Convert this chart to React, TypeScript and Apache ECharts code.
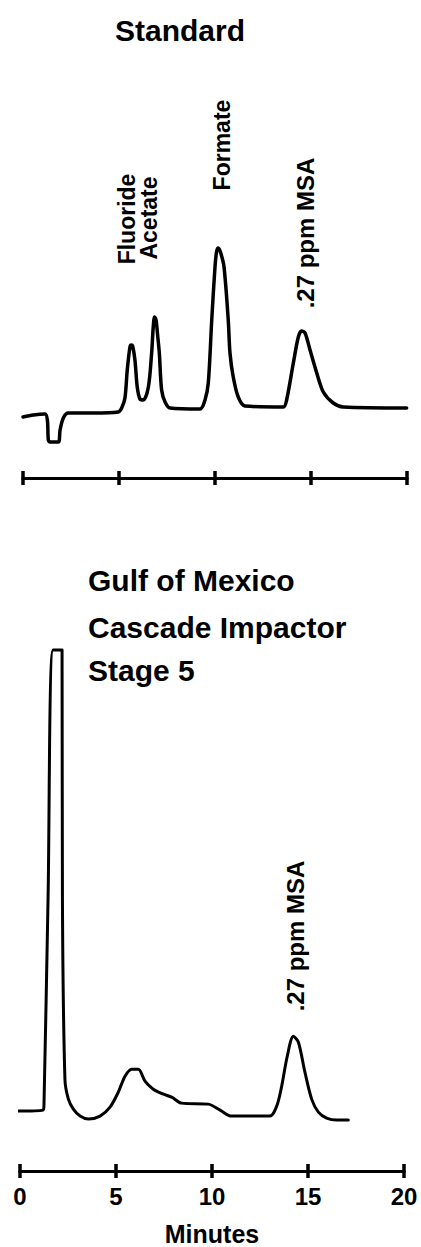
import React, { useEffect, useRef } from "react";
import * as echarts from "echarts";

// ---- data (minutes, detector signal in arbitrary units) ----
const minuteTickLabels = ["0", "5", "10", "15", "20"];

const standardTime = [
  0, 0.54, 1.15, 1.27, 1.32, 1.41, 1.84, 1.93, 2.1, 2.36, 3.66, 4.96, 5.14, 5.31, 5.43, 5.57, 5.64, 5.71, 5.83,
  5.95, 6.09, 6.27, 6.53, 6.7, 6.78, 6.85, 6.93, 7.0, 7.1, 7.22, 7.4, 7.66, 9.22, 9.48, 9.65, 9.83, 10.0, 10.08,
  10.17, 10.3, 10.47, 10.69, 10.78, 10.95, 11.21, 11.56, 13.56, 13.73, 14.08, 14.34, 14.51, 14.69, 14.95,
  15.3, 15.64, 16.16, 16.68, 19.98,
];
const standardSignal = [
  61, 63, 64, 58, 38, 36, 36, 48, 60, 65, 65, 66, 70, 80, 108, 131, 133, 132, 118,
  91, 79, 78, 91, 125, 150, 161, 158, 145, 125, 88, 76, 70, 69, 78, 95, 158, 211, 226,
  230, 225, 211, 158, 125, 101, 81, 72, 71, 78, 115, 141, 147, 145, 128,
  105, 86, 75, 71, 70,
];

const sampleTime = [
  -0.15, 1.2, 1.25, 1.46, 1.72, 2.19, 2.21, 2.34, 2.52, 2.78, 3.13, 3.56, 4.17, 4.69, 5.12, 5.47, 5.82,
  6.16, 6.51, 6.94, 7.47, 7.9, 8.42, 9.81, 10.42, 11.02, 13.02, 13.37, 13.63, 13.92, 14.24, 14.5, 14.84,
  15.19, 15.54, 15.97, 16.49, 17.1,
];
const sampleSignal = [
  60, 61, 67, 272, 522, 522, 272, 92, 72, 62, 55, 52, 55, 64, 79, 95, 102,
  102, 90, 82, 77, 74, 68, 67, 61, 55, 55, 65, 85, 115, 135, 129, 99,
  72, 59, 53, 51, 51,
];

const standardTitle = "Standard";
const sampleTitle = ["Gulf of Mexico", "Cascade Impactor", "Stage 5"];
const standardPeakNames = ["Fluoride", "Acetate", "Formate", ".27 ppm MSA"];
const samplePeakNames = [".27 ppm MSA"];

const FONT = '"Liberation Sans", Arial, Helvetica, sans-serif';

function txt(text: string, x: number, y: number, size: number, rotate = false, align = "left") {
  return {
    type: "text",
    x,
    y,
    rotation: rotate ? Math.PI / 2 : 0,
    style: {
      text,
      font: `bold ${size}px ${FONT}`,
      fill: "#000",
      align: rotate ? "center" : align,
      textAlign: rotate ? "center" : align,
      verticalAlign: "middle",
      textVerticalAlign: "middle",
    },
  };
}

function axisPair(gridIndex: number, withLabels: boolean) {
  const base = {
    gridIndex,
    type: "value",
    min: 0,
    max: 20,
    interval: 5,
    position: "bottom",
    axisLine: { show: true, lineStyle: { color: "#000", width: 3 } },
    splitLine: { show: false },
  };
  return [
    {
      ...base,
      axisTick: { show: true, inside: false, length: 7, lineStyle: { color: "#000", width: 3.5 } },
      axisLabel: withLabels
        ? {
            show: true,
            margin: 13,
            color: "#000",
            fontSize: 24,
            fontWeight: "bold",
            fontFamily: FONT,
            formatter: (v: number) => minuteTickLabels[Math.round(v / 5)] ?? "",
          }
        : { show: false },
      name: withLabels ? "Minutes" : "",
      nameLocation: "middle",
      nameGap: 50,
      nameTextStyle: { color: "#000", fontSize: 25, fontWeight: "bold", fontFamily: FONT },
    },
    {
      ...base,
      axisTick: { show: true, inside: true, length: 7, lineStyle: { color: "#000", width: 3.5 } },
      axisLabel: { show: false },
    },
  ];
}

export default function App() {
  const ref = useRef<HTMLDivElement>(null);

  useEffect(() => {
    if (!ref.current) return;
    const chart = echarts.init(ref.current, undefined, { renderer: "svg" });
    const option: any = {
      animation: false,
      backgroundColor: "#fff",
      grid: [
        { left: 23, top: 178, width: 384, height: 300 },
        { left: 20, top: 650, width: 384, height: 522 },
      ],
      xAxis: [...axisPair(0, false), ...axisPair(1, true)],
      yAxis: [
        { gridIndex: 0, type: "value", min: 0, max: 300, show: false },
        { gridIndex: 1, type: "value", min: 0, max: 522, show: false },
      ],
      series: [
        {
          type: "line",
          xAxisIndex: 0,
          yAxisIndex: 0,
          data: standardTime.map((t, i) => [t, standardSignal[i]]),
          symbol: "none",
          smooth: 0.3,
          lineStyle: { color: "#000", width: 3.5, join: "round", cap: "round" },
          clip: false,
        },
        {
          type: "line",
          xAxisIndex: 2,
          yAxisIndex: 1,
          data: sampleTime.map((t, i) => [t, sampleSignal[i]]),
          symbol: "none",
          smooth: 0.3,
          lineStyle: { color: "#000", width: 3, join: "round", cap: "round" },
          clip: false,
        },
      ],
      graphic: [
        txt(standardTitle, 115, 30, 30),
        txt(standardPeakNames[0], 126.5, 219, 23, true),
        txt(standardPeakNames[1], 149, 218, 23, true),
        txt(standardPeakNames[2], 221.5, 145, 23, true),
        txt(standardPeakNames[3], 305, 233, 24, true),
        txt(sampleTitle[0], 88, 580, 30),
        txt(sampleTitle[1], 88, 627, 30),
        txt(sampleTitle[2], 88, 670, 30),
        txt(samplePeakNames[0], 295, 936, 24, true),
      ],
    };
    chart.setOption(option);
    return () => chart.dispose();
  }, []);

  return (
    <div
      ref={ref}
      style={{ position: "absolute", left: 0, top: 0, width: 421, height: 1247 }}
    />
  );
}
